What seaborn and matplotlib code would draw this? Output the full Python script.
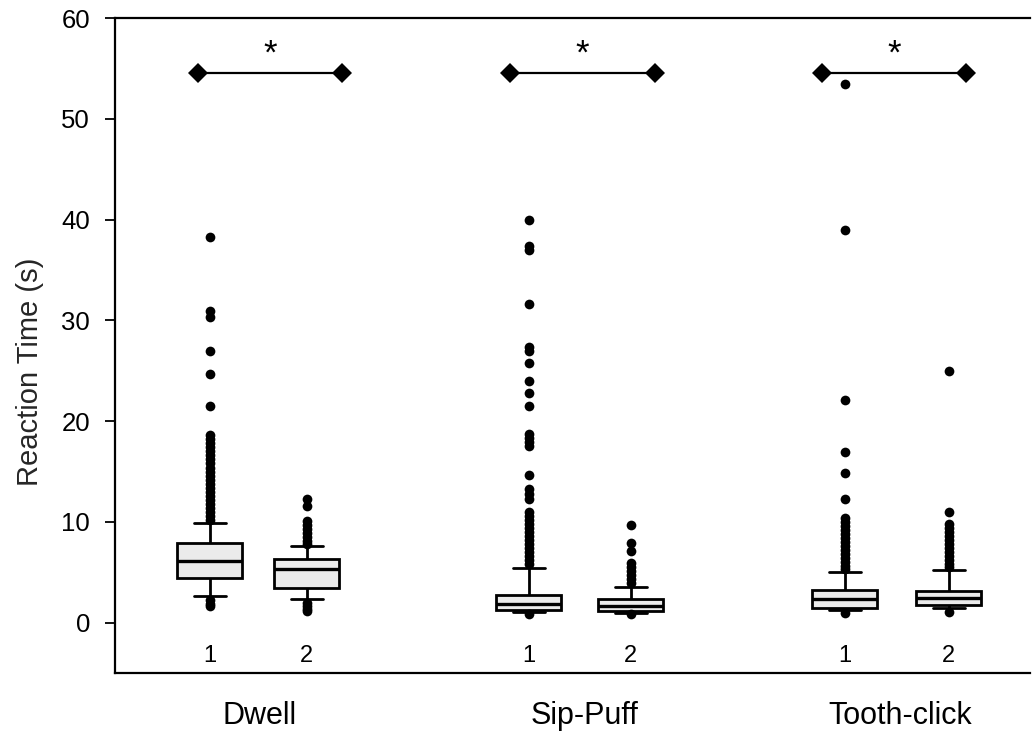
import numpy as np
import pandas as pd
import matplotlib
matplotlib.use("Agg")
import matplotlib.pyplot as plt
import seaborn as sns

# ---------------- data ----------------
groups = ["Dwell", "Sip-Puff", "Tooth-click"]
sessions = ["1", "2"]
box_names = ["Dwell-1", "Dwell-2", "Sip-Puff-1", "Sip-Puff-2", "Tooth-click-1", "Tooth-click-2"]

# five-number summaries (lower whisker, Q1, median, Q3, upper whisker) in seconds
whisker_low = [2.6, 2.3, 1.1, 1.0, 1.3, 1.5]
q1 = [4.4, 3.4, 1.3, 1.2, 1.5, 1.8]
median = [6.1, 5.3, 1.9, 1.7, 2.3, 2.4]
q3 = [7.9, 6.3, 2.7, 2.3, 3.2, 3.1]
whisker_high = [9.9, 7.6, 5.4, 3.5, 5.0, 5.2]

# points outside the whiskers
outliers_dwell_1 = [38.3, 30.9, 30.3, 27.0, 24.7, 21.5, 18.6, 18.2, 17.8, 17.4, 17.0,
                    16.6, 16.2, 15.8, 15.4, 15.0, 14.6, 14.2, 13.8, 13.4, 13.0, 12.6,
                    12.2, 11.8, 11.4, 11.0, 10.6, 10.2, 2.2, 1.9, 1.7]
outliers_dwell_2 = [12.3, 11.6, 10.1, 9.7, 9.3, 8.9, 8.5, 8.1, 7.8, 2.0, 1.7, 1.4, 1.2]
outliers_sip_1 = [40.0, 37.4, 37.0, 31.6, 27.4, 27.0, 25.8, 24.0, 22.8, 21.5, 18.7,
                  18.3, 17.9, 17.5, 14.7, 13.3, 12.8, 12.3, 11.0, 10.6, 10.2, 9.8,
                  9.4, 9.0, 8.6, 8.2, 7.8, 7.4, 7.0, 6.6, 6.2, 5.8, 0.9]
outliers_sip_2 = [9.7, 7.9, 7.1, 5.9, 5.5, 5.1, 4.7, 4.3, 3.9, 0.9]
outliers_tooth_1 = [53.5, 39.0, 22.1, 16.9, 14.9, 12.3, 10.4, 10.0, 9.6, 9.2, 8.8,
                    8.4, 8.0, 7.6, 7.2, 6.8, 6.4, 6.0, 5.6, 5.3, 1.0]
outliers_tooth_2 = [25.0, 11.0, 9.8, 9.4, 9.0, 8.6, 8.2, 7.8, 7.4, 7.0, 6.6, 6.2,
                    5.8, 5.5, 1.1]
outliers = [outliers_dwell_1, outliers_dwell_2, outliers_sip_1,
            outliers_sip_2, outliers_tooth_1, outliers_tooth_2]

significance = ["*", "*", "*"]
sig_level = 54.6
y_label = "Reaction Time (s)"
y_ticks = [0, 10, 20, 30, 40, 50, 60]

# ---------------- layout ----------------
box_pos = [210, 307, 529, 631, 845, 949]          # horizontal layout (axis units)
bracket_x = [(198, 342), (510, 655), (822, 966)]
group_label_x = [260, 585, 900]

sns.set_theme(style="white")
plt.rcParams["font.family"] = ["Liberation Sans", "DejaVu Sans"]

box_df = pd.DataFrame({
    "pos": np.repeat(box_pos, 5),
    "rt": np.ravel(np.column_stack([whisker_low, q1, median, q3, whisker_high])),
})
out_df = pd.DataFrame({
    "pos": np.concatenate([[p] * len(o) for p, o in zip(box_pos, outliers)]),
    "rt": np.concatenate(outliers),
})

fig = plt.figure(figsize=(10.35, 7.45), dpi=100)
ax = fig.add_axes([0.111, 0.0966, 0.884, 0.879])

sns.boxplot(data=box_df, x="pos", y="rt", native_scale=True, orient="x",
            whis=(0, 100), width=0.67, color="#ebebeb", linecolor="black",
            linewidth=2.0, showfliers=False, ax=ax,
            medianprops=dict(linewidth=2.4, color="black"))
sns.stripplot(data=out_df, x="pos", y="rt", native_scale=True, orient="x",
              jitter=False, color="black", size=7, linewidth=0, ax=ax, zorder=3)

# significance brackets
for (xa, xb), s in zip(bracket_x, significance):
    sns.lineplot(x=[xa, xb], y=[sig_level, sig_level], color="black", lw=1.6,
                 marker="D", markersize=10, markeredgewidth=0, ax=ax,
                 estimator=None, sort=False)
    ax.text((xa + xb) / 2, sig_level + 0.9, s, ha="center", va="baseline",
            fontsize=25, color="black")

# session labels
for p, lab in zip(box_pos, sessions * 3):
    ax.text(p, -3.3, lab, ha="center", va="center", fontsize=17, color="black")

# group labels below axis
trans = matplotlib.transforms.blended_transform_factory(ax.transData, ax.transAxes)
for gx, g in zip(group_label_x, groups):
    ax.text(gx, -0.066, g, ha="center", va="center", fontsize=22, color="black",
            transform=trans)

ax.set_xlim(115, 1030)
ax.set_ylim(-5, 60)
ax.set_yticks(y_ticks)
ax.set_yticklabels([str(t) for t in y_ticks])
ax.set_xticks([])
ax.set_xlabel("")
ax.set_ylabel(y_label, fontsize=21)
ax.yaxis.set_label_coords(-0.078, 0.46)
ax.tick_params(axis="y", direction="out", length=7, width=1.3, left=True, pad=11,
               color="black", labelcolor="black", labelsize=18.5)
for side in ["left", "top", "bottom"]:
    ax.spines[side].set_color("black")
    ax.spines[side].set_linewidth(1.6)
ax.spines["right"].set_visible(False)

fig.savefig("out.png", dpi=100, facecolor="white")
